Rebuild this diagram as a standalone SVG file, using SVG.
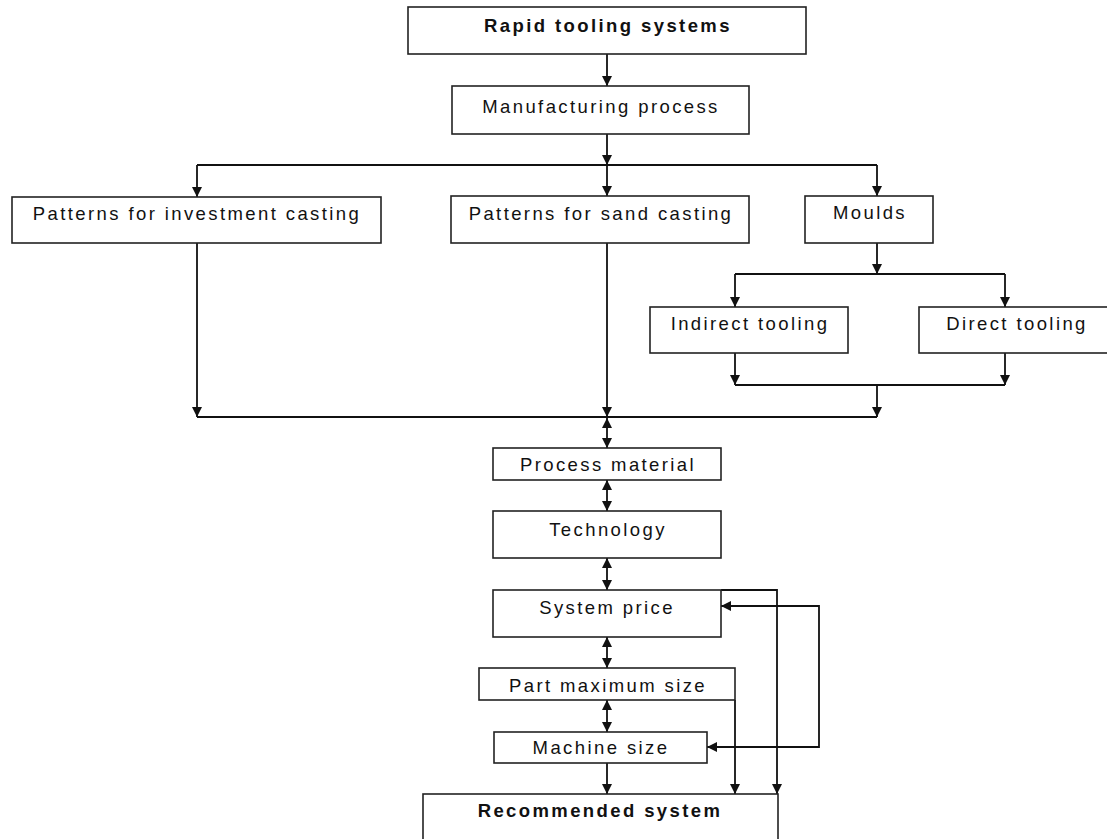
<svg xmlns="http://www.w3.org/2000/svg" width="1107" height="839" viewBox="0 0 1107 839">
  <style>
    .box { fill: #ffffff; stroke: #222222; stroke-width: 1.6; }
    .lbl { font-family: "Liberation Sans", Arial, sans-serif; font-size: 18.5px; letter-spacing: 2.4px; fill: #111111; text-anchor: middle; }
    .bold { font-weight: bold; }
    .wire { fill: none; stroke: #111111; stroke-width: 1.8; }
    .one { marker-end: url(#head); }
    .two { marker-start: url(#head); marker-end: url(#head); }
  </style>
  <defs>
    <marker id="head" markerUnits="userSpaceOnUse" markerWidth="10" markerHeight="10" viewBox="0 0 10 10" refX="10" refY="5" orient="auto-start-reverse">
      <path d="M0,0 L10,5 L0,10 z" fill="#111111"/>
    </marker>
  </defs>
  <rect width="1107" height="839" fill="#ffffff"/>

  <g id="connectors">
    <!-- top chain -->
    <line class="wire one" x1="607" y1="54" x2="607" y2="86"/>
    <line class="wire one" x1="607" y1="134" x2="607" y2="165"/>
    <line class="wire" x1="197" y1="165" x2="877" y2="165"/>
    <line class="wire one" x1="197" y1="165" x2="197" y2="197"/>
    <line class="wire one" x1="607" y1="165" x2="607" y2="196"/>
    <line class="wire one" x1="877" y1="165" x2="877" y2="196"/>
    <!-- mould branch -->
    <line class="wire one" x1="877" y1="243" x2="877" y2="274"/>
    <line class="wire" x1="735" y1="274" x2="1005" y2="274"/>
    <line class="wire one" x1="735" y1="274" x2="735" y2="307"/>
    <line class="wire one" x1="1005" y1="274" x2="1005" y2="307"/>
    <line class="wire one" x1="735" y1="353" x2="735" y2="385"/>
    <line class="wire one" x1="1005" y1="353" x2="1005" y2="385"/>
    <line class="wire" x1="735" y1="385" x2="1005" y2="385"/>
    <line class="wire one" x1="877" y1="385" x2="877" y2="417"/>
    <!-- merge line -->
    <line class="wire" x1="197" y1="417" x2="877" y2="417"/>
    <line class="wire one" x1="197" y1="243" x2="197" y2="417"/>
    <line class="wire one" x1="607" y1="243" x2="607" y2="417"/>
    <!-- vertical two-way chain -->
    <line class="wire two" x1="607" y1="418" x2="607" y2="448"/>
    <line class="wire two" x1="607" y1="480" x2="607" y2="511"/>
    <line class="wire two" x1="607" y1="558" x2="607" y2="590"/>
    <line class="wire two" x1="607" y1="637" x2="607" y2="668"/>
    <line class="wire two" x1="607" y1="700" x2="607" y2="732"/>
    <line class="wire one" x1="607" y1="763" x2="607" y2="794"/>
    <!-- side links into the result -->
    <line class="wire one" x1="735" y1="700" x2="735" y2="794"/>
    <polyline class="wire one" points="721,590 777,590 777,794"/>
    <polyline class="wire two" points="721,606 819,606 819,747 707,747"/>
  </g>

  <g id="rapid-tooling"><rect class="box" x="408" y="7" width="398" height="47"/><text class="lbl bold" x="608" y="32">Rapid tooling systems</text></g>
  <g id="manufacturing"><rect class="box" x="452" y="86" width="297" height="48"/><text class="lbl" x="601" y="113">Manufacturing process</text></g>
  <g id="investment-casting"><rect class="box" x="12" y="197" width="369" height="46"/><text class="lbl" x="197" y="220">Patterns for investment casting</text></g>
  <g id="sand-casting"><rect class="box" x="451" y="196" width="298" height="47"/><text class="lbl" x="601" y="220">Patterns for sand casting</text></g>
  <g id="moulds"><rect class="box" x="805" y="196" width="128" height="47"/><text class="lbl" x="870" y="219">Moulds</text></g>
  <g id="indirect-tooling"><rect class="box" x="650" y="307" width="198" height="46"/><text class="lbl" x="750" y="330">Indirect tooling</text></g>
  <g id="direct-tooling"><rect class="box" x="919" y="307" width="194" height="46"/><text class="lbl" x="1017" y="330">Direct tooling</text></g>
  <g id="process-material"><rect class="box" x="493" y="448" width="228" height="32"/><text class="lbl" x="608" y="471">Process material</text></g>
  <g id="technology"><rect class="box" x="493" y="511" width="228" height="47"/><text class="lbl" x="608" y="536">Technology</text></g>
  <g id="system-price"><rect class="box" x="493" y="590" width="228" height="47"/><text class="lbl" x="607" y="614">System price</text></g>
  <g id="part-maximum-size"><rect class="box" x="479" y="668" width="256" height="32"/><text class="lbl" x="608" y="692">Part maximum size</text></g>
  <g id="machine-size"><rect class="box" x="494" y="732" width="213" height="31"/><text class="lbl" x="601" y="754">Machine size</text></g>
  <g id="recommended-system"><rect class="box" x="423" y="794" width="355" height="70"/><text class="lbl bold" x="600" y="817">Recommended system</text></g>
</svg>
